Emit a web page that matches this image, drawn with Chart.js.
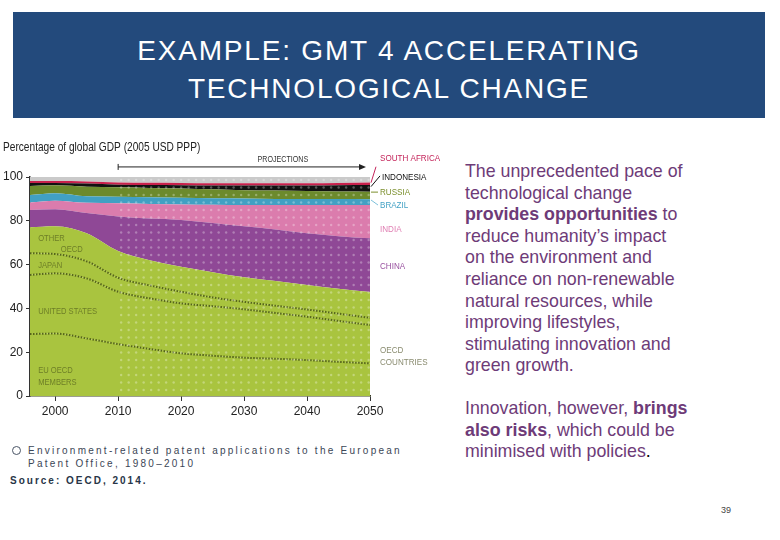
<!DOCTYPE html>
<html>
<head>
<meta charset="utf-8">
<script src="https://cdn.jsdelivr.net/npm/chart.js@4.4.1/dist/chart.umd.min.js"></script>
<style>
  body { margin: 0; width: 780px; height: 540px; background: #fff; position: relative; overflow: hidden;
         font-family: 'Liberation Sans', Arial, sans-serif; }
  #banner { position: absolute; left: 13px; top: 12px; width: 752px; height: 106px; background: #234a7c; }
  #title { position: absolute; left: 13px; top: 32px; width: 752px; text-align: center; color: #fff;
           font-size: 28px; line-height: 38px; letter-spacing: 1.8px; }
  #chartBox { position: absolute; left: 0; top: 130px; width: 450px; height: 300px; }
  .para { position: absolute; left: 465px; color: #6e3b78; font-size: 17.8px; line-height: 21.6px; }
  .para b { font-weight: bold; }
  #p1 { top: 161px; }
  #p2 { top: 398px; }
  #caption { position: absolute; left: 28px; top: 444px; color: #3b4656; font-size: 10px; line-height: 13px;
             letter-spacing: 2.25px; }
  #bullet { position: absolute; left: 12px; top: 446px; width: 7px; height: 7px; border: 1px solid #4a5566; border-radius: 50%; }
  #source { position: absolute; left: 10px; top: 475px; color: #283547; font-size: 10px; font-weight: bold; letter-spacing: 2px; }
  #page { position: absolute; left: 721px; top: 505px; font-size: 9px; color: #444; }
</style>
</head>
<body>
<div id="banner"></div>
<div id="title">EXAMPLE: GMT 4 ACCELERATING<br>TECHNOLOGICAL CHANGE</div>
<div id="chartBox"><canvas id="chart" width="450" height="300"></canvas></div>
<div class="para" id="p1">The unprecedented pace of<br>technological change<br><b>provides opportunities</b> to<br>reduce humanity’s impact<br>on the environment and<br>reliance on non-renewable<br>natural resources, while<br>improving lifestyles,<br>stimulating innovation and<br>green growth.</div>
<div class="para" id="p2">Innovation, however, <b>brings</b><br><b>also risks</b>, which could be<br>minimised with policies<span style="color:#000">.</span></div>
<div id="bullet"></div>
<div id="caption">Environment-related patent applications to the European<br>Patent Office, 1980–2010</div>
<div id="source">Source: OECD, 2014.</div>
<div id="page">39</div>
<script>
// shares of global GDP (%)
const years = [1996, 2000, 2005, 2010, 2015, 2020, 2025, 2030, 2035, 2040, 2045, 2050];
const euOecd = [28.3, 28.5, 26.3, 23.7, 21.5, 19.5, 18.4, 17.5, 17.0, 16.4, 15.6, 14.9];
const unitedStates = [27.0, 27.5, 27.4, 23.9, 23.1, 22.8, 22.6, 22.1, 20.9, 19.8, 18.7, 17.5];
const japan = [9.9, 8.8, 7.8, 6.4, 5.9, 5.3, 4.0, 3.4, 3.3, 3.3, 3.3, 3.3];
const otherOecd = [11.8, 12.7, 12.8, 12.2, 11.5, 11.4, 11.5, 11.2, 11.3, 11.2, 11.4, 11.8];
const china = [7.9, 7.8, 9.3, 15.8, 19.0, 21.4, 22.5, 23.3, 23.5, 23.6, 24.0, 24.5];
const india = [3.5, 3.9, 4.6, 6.0, 6.7, 7.1, 8.3, 9.7, 11.2, 12.9, 14.2, 15.2];
const brazil = [3.4, 3.4, 3.0, 3.0, 3.1, 3.0, 3.0, 3.0, 2.8, 2.8, 2.7, 2.6];
const russia = [4.1, 3.6, 4.4, 4.3, 4.2, 4.3, 4.1, 3.8, 3.8, 3.6, 3.5, 3.5];
const indonesia = [1.4, 1.1, 1.4, 1.2, 1.3, 1.4, 1.7, 2.1, 2.3, 2.5, 2.8, 3.0];
const southAfrica = [0.9, 0.9, 1.0, 1.0, 1.1, 1.1, 1.1, 1.1, 1.1, 1.1, 1.1, 1.2];
const restOfWorld = [1.8, 1.8, 2.0, 2.5, 2.6, 2.7, 2.8, 2.8, 2.8, 2.8, 2.7, 2.5];

const xTicks = [2000, 2010, 2020, 2030, 2040, 2050];
const yTicks = [0, 20, 40, 60, 80, 100];
const projectionStart = 2010;

const sans = "'Liberation Sans', Arial, sans-serif";
const green = '#a9c43f';
const dotLine = '#56651a';

function series(label, values, color, dotted) {
  return {
    label: label,
    data: years.map((yr, i) => ({x: yr, y: values[i]})),
    backgroundColor: color,
    borderColor: dotted ? dotLine : color,
    borderWidth: dotted ? 2 : 0,
    borderDash: dotted ? [1.5, 1.5] : [],
    fill: '-1',
    pointRadius: 0,
    cubicInterpolationMode: 'monotone'
  };
}

const datasets = [
  series('EU OECD members', euOecd, green, true),
  series('United States', unitedStates, green, true),
  series('Japan', japan, green, true),
  series('Other OECD', otherOecd, green, false),
  series('China', china, '#8f4896', false),
  series('India', india, '#db7cad', false),
  series('Brazil', brazil, '#41a0c3', false),
  series('Russia', russia, '#6c8a2c', false),
  series('Indonesia', indonesia, '#111111', false),
  series('South Africa', southAfrica, '#c8214c', false),
  series('Rest of world', restOfWorld, '#cacaca', false)
];
datasets[0].fill = 'origin';

// squeezed text, the source uses a condensed face
function narrowText(ctx, text, x, y, sx) {
  ctx.save();
  ctx.translate(x, y);
  ctx.scale(sx, 1);
  ctx.fillText(text, 0, 0);
  ctx.restore();
}

// dots over the projection period, labels, arrow and leader lines
const extras = {
  id: 'extras',
  afterDatasetsDraw(chart) {
    const {ctx, chartArea: a, scales: {x}} = chart;
    const x0 = x.getPixelForValue(projectionStart);
    ctx.save();
    ctx.fillStyle = 'rgba(255,255,255,0.3)';
    for (let py = a.top + 3; py < a.bottom; py += 7.5) {
      for (let px = x0 + 3; px < a.right; px += 7.5) {
        ctx.beginPath();
        ctx.arc(px, py, 1.2, 0, Math.PI * 2);
        ctx.fill();
      }
    }
    ctx.restore();
  },
  afterDraw(chart) {
    const {ctx, chartArea: a, scales: {x, y}} = chart;
    ctx.save();
    ctx.textBaseline = 'middle';
    ctx.textAlign = 'left';
    // y axis title
    ctx.font = '13px ' + sans;
    ctx.fillStyle = '#222';
    narrowText(ctx, 'Percentage of global GDP (2005 USD PPP)', 3, y.getPixelForValue(100) - 30, 0.78);

    // projections arrow
    const ay = y.getPixelForValue(104.6);
    const ax0 = x.getPixelForValue(projectionStart);
    const ax1 = a.right - 4;
    ctx.strokeStyle = '#222';
    ctx.lineWidth = 1;
    ctx.beginPath();
    ctx.moveTo(ax0, ay); ctx.lineTo(ax1 - 5, ay);
    ctx.moveTo(ax0, ay - 3); ctx.lineTo(ax0, ay + 3);
    ctx.stroke();
    ctx.fillStyle = '#222';
    ctx.beginPath();
    ctx.moveTo(ax1, ay); ctx.lineTo(ax1 - 7, ay - 3); ctx.lineTo(ax1 - 7, ay + 3); ctx.closePath();
    ctx.fill();
    ctx.font = '9.5px ' + sans;
    ctx.fillStyle = '#333';
    narrowText(ctx, 'PROJECTIONS', x.getPixelForValue(2036.1) - 25, y.getPixelForValue(108.2), 0.75);

    // country labels on the right
    const rx = a.right + 10;
    const right = [
      ['SOUTH AFRICA', 108.7, '#c4245a'],
      ['INDONESIA', 100.0, '#111'],
      ['RUSSIA', 93.2, '#7b8f2c'],
      ['BRAZIL', 87.2, '#46a3c6'],
      ['INDIA', 76.3, '#e07fb3'],
      ['CHINA', 59.4, '#98509f'],
      ['OECD', 21.0, '#8a8c70'],
      ['COUNTRIES', 15.5, '#8a8c70']
    ];
    ctx.font = '9.5px ' + sans;
    right.forEach(([t, v, c]) => {
      ctx.fillStyle = c;
      narrowText(ctx, t, t === 'INDONESIA' ? rx + 2 : rx, y.getPixelForValue(v), 0.85);
    });
    // leader lines
    const leaders = [
      [97.4, 6, 104.7, '#c4245a'],
      [95.6, 10, 100.5, '#111'],
      [93.1, 8, 93.1, '#7b8f2c'],
      [89.5, 8, 87.2, '#7cc0da']
    ];
    leaders.forEach(([v0, dx, v1, c]) => {
      ctx.strokeStyle = c;
      ctx.beginPath();
      ctx.moveTo(a.right + 1, y.getPixelForValue(v0));
      ctx.lineTo(a.right + dx, y.getPixelForValue(v1));
      ctx.stroke();
    });

    // OECD member labels inside the green area
    ctx.fillStyle = '#6e7f27';
    const inner = [
      ['OTHER', 1997.3, 72.1],
      ['OECD', 2000.9, 67.1],
      ['JAPAN', 1997.3, 59.8],
      ['UNITED STATES', 1997.3, 38.8],
      ['EU OECD', 1997.3, 11.9],
      ['MEMBERS', 1997.3, 6.4]
    ];
    inner.forEach(([t, yr, v]) => narrowText(ctx, t, x.getPixelForValue(yr), y.getPixelForValue(v), 0.8));
    ctx.restore();
  }
};

new Chart(document.getElementById('chart'), {
  type: 'line',
  data: {datasets: datasets},
  plugins: [extras],
  options: {
    responsive: false,
    animation: false,
    layout: {padding: {top: 47, right: 80, left: 0, bottom: 0}},
    plugins: {legend: {display: false}, tooltip: {enabled: false}},
    scales: {
      x: {
        type: 'linear',
        min: 1996,
        max: 2050,
        afterBuildTicks: s => { s.ticks = xTicks.map(v => ({value: v})); },
        afterFit: s => { s.height = 34; },
        grid: {drawOnChartArea: false, drawTicks: true, tickLength: 5, color: '#333'},
        border: {color: '#3a3f22', width: 1.5},
        ticks: {color: '#222', font: {family: sans, size: 12}, padding: 3, callback: v => String(v)}
      },
      y: {
        stacked: true,
        min: 0,
        max: 100,
        afterBuildTicks: s => { s.ticks = yTicks.map(v => ({value: v})); },
        afterFit: s => { s.width = 30; },
        grid: {drawOnChartArea: false, drawTicks: true, tickLength: 4, color: '#333'},
        border: {color: '#333', width: 1.5},
        ticks: {color: '#222', font: {family: sans, size: 12}, padding: 3}
      }
    }
  }
});
</script>
</body>
</html>
